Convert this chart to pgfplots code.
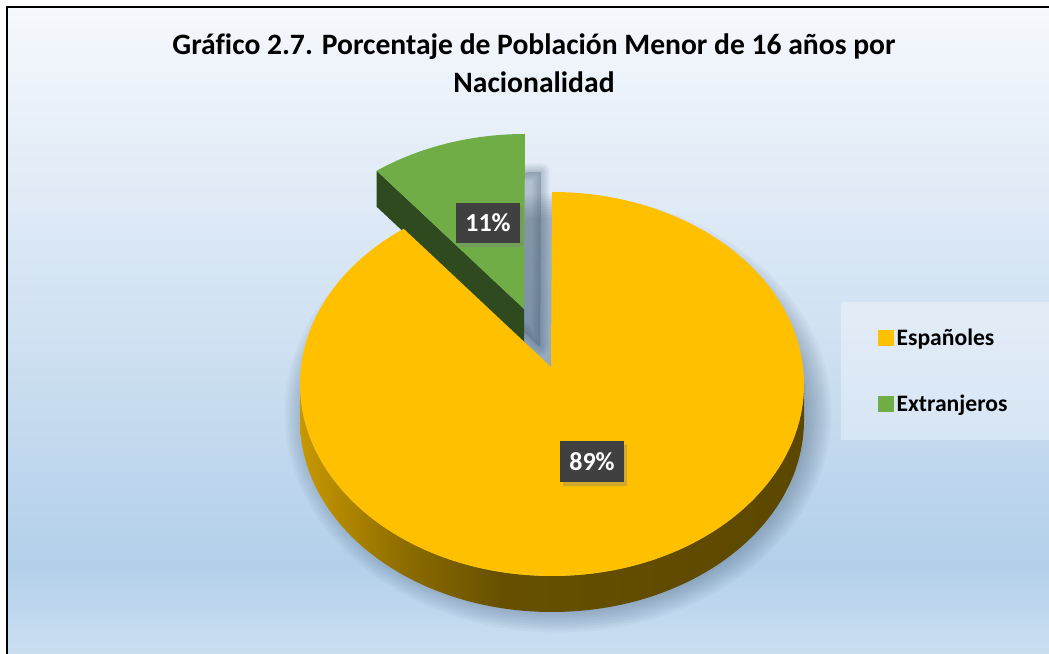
\documentclass[border=0pt]{standalone}
\usepackage{fontspec}
\setmainfont{Carlito}[Ligatures=CommonOff]
\usepackage{pgfplots}
\pgfplotsset{compat=1.18}
\usepackage{pgfplotstable}
\usetikzlibrary{shadows,patterns}

\definecolor{pieY}{HTML}{FFC000}
\definecolor{pieG}{HTML}{70AD47}
\definecolor{pieGdark}{HTML}{2E4A1E}
\definecolor{lbl}{HTML}{404040}
\definecolor{shadowc}{HTML}{3E5670}
\definecolor{bgA}{HTML}{CBDFF2}
\definecolor{bgB}{HTML}{B3D0EA}
\definecolor{bgC}{HTML}{D3E3F3}
\definecolor{bgD}{HTML}{F5F8FC}
\definecolor{ysA}{HTML}{C89800}
\definecolor{ysB}{HTML}{8A6A00}
\definecolor{ysC}{HTML}{665000}
\definecolor{ysD}{HTML}{5C4700}

\pgfdeclareverticalshading{bgshade}{100bp}{color(0bp)=(bgA); color(25bp)=(bgA); color(32bp)=(bgB); color(52bp)=(bgC); color(75bp)=(bgD); color(100bp)=(bgD)}
\pgfdeclarehorizontalshading{yside}{100bp}{color(0bp)=(ysA); color(25bp)=(ysA); color(36bp)=(ysB); color(45bp)=(ysC); color(75bp)=(ysD); color(100bp)=(ysD)}

\pgfplotstableread{
name value
Espanoles 89
Extranjeros 11
}\piedata

\begin{document}
\begin{tikzpicture}
\pgfplotstablegetelem{0}{value}\of\piedata \let\valE\pgfplotsretval
\pgfplotstablegetelem{1}{value}\of\piedata \let\valX\pgfplotsretval
\pgfmathsetmacro\thX{90+3.6*\valX}
\pgfmathsetmacro\tX{atan2(sin(\thX),0.88*cos(\thX))}
\pgfmathsetmacro\tXneg{\tX-360}
\pgfmathsetmacro\cgx{525+252*cos(\tX)}
\pgfmathsetmacro\cgy{327+192*sin(\tX)}
\pgfmathsetmacro\cgyb{\cgy-36}

\path[use as bounding box] (0pt,0pt) rectangle (1049pt,653pt);
\clip (0pt,0pt) rectangle (1049pt,653pt);
\fill[white] (0pt,0pt) rectangle (1049pt,653pt);
\shade[shading=bgshade] (8pt,-2pt) rectangle (1052pt,645pt);
\draw[black, line width=2.2pt] (7pt,-5pt) -- (7pt,646pt) -- (1060pt,646pt);

\begin{axis}[at={(0pt,0pt)}, anchor=origin, x=1pt, y=1pt, disabledatascaling,
  xmin=0, xmax=1049, ymin=0, ymax=653, hide axis, clip=false,
  legend image code/.code={\fill[#1] (0pt,-7.5pt) rectangle (15pt,7.5pt);},
  legend style={at={(axis description cs:0.837,0.4319)}, anchor=west, draw=none, fill=none,
    font=\fontsize{23.6}{23.6}\selectfont\bfseries, row sep=42pt, inner sep=0pt,
    nodes={inner sep=3pt}},
  legend cell align=left]

% soft shadow of the yellow slice
\pgfplotsinvokeforeach{0,...,9}{
  \fill[shadowc, opacity=0.045] (axis cs:558,240) ellipse [x radius=250pt+2.6pt*#1, y radius=196pt+2.6pt*#1];
}
% soft shadow of the green slice
\pgfplotsinvokeforeach{1,...,7}{
  \filldraw[shadowc, fill opacity=0.045, draw opacity=0.045, line width=2.5pt*#1, line join=round, shift={(16pt,-38pt)}]
    (axis cs:524,344) -- (axis cs:525,519) arc[start angle=90, end angle=\tX, x radius=252pt, y radius=192pt] -- cycle;
}

% green slice (exploded)
\fill[pieGdark] (axis cs:524,344) -- (axis cs:\cgx,\cgy) -- (axis cs:\cgx,\cgyb) -- (axis cs:524,308) -- cycle;
\fill[pieG] (axis cs:524,344) -- (axis cs:525,519) arc[start angle=90, end angle=\tX, x radius=252pt, y radius=192pt] -- cycle;

% yellow slice
\shade[shading=yside] (axis cs:300,269) arc[start angle=180, end angle=360, x radius=252pt, y radius=192pt] -- ++(0pt,-36pt) arc[start angle=360, end angle=180, x radius=252pt, y radius=192pt] -- cycle;
\fill[pieY] (axis cs:551,286) -- (axis cs:552,461) arc[start angle=90, end angle=\tXneg, x radius=252pt, y radius=192pt] -- cycle;

% data labels
\node[fill=lbl, text=white, font=\fontsize{26}{26}\selectfont\bfseries, minimum width=64pt, minimum height=40pt, inner sep=0pt,
  drop shadow={shadow xshift=3pt, shadow yshift=-4pt, opacity=0.35}] at (axis cs:488,430) {\valX\%};
\node[fill=lbl, text=white, font=\fontsize{26}{26}\selectfont\bfseries, minimum width=64pt, minimum height=41pt, inner sep=0pt,
  drop shadow={shadow xshift=3pt, shadow yshift=-4pt, opacity=0.35}] at (axis cs:592,191.5) {\valE\%};

% legend panel
\fill[white, opacity=0.35] (axis cs:841,213) rectangle (axis cs:1052,351);
\addlegendimage{pieY}
\addlegendentry{Españoles}
\addlegendimage{pieG}
\addlegendentry{Extranjeros}

% title
\node[anchor=base, font=\fontsize{29.6}{29.6}\selectfont\bfseries] at (axis cs:534,598) {Gráfico 2.7. Porcentaje de Población Menor de 16 años por};
\node[anchor=base, font=\fontsize{29.6}{29.6}\selectfont\bfseries] at (axis cs:534,560) {Nacionalidad};
\end{axis}
\end{tikzpicture}
\end{document}
